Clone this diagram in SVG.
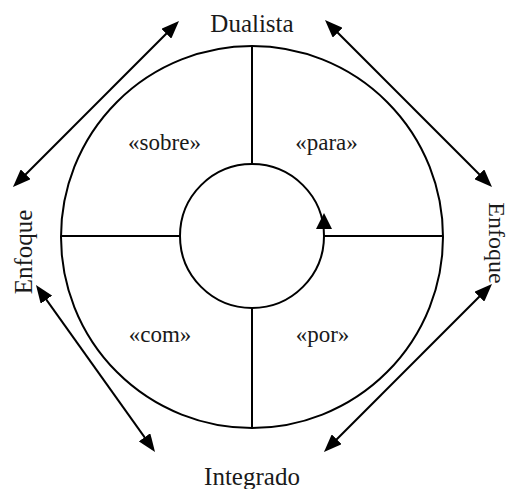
<svg xmlns="http://www.w3.org/2000/svg" width="511" height="489" viewBox="0 0 511 489">
<defs>
<style>
.ln{fill:none;stroke:#000;stroke-width:2}
.t{font-family:"Liberation Serif",serif;fill:#1a1a1a;text-anchor:middle}
.o{font-size:25px}
.r{font-size:24px}
.i{font-size:23px}
</style>
<marker id="ah" viewBox="0 0 18 14" markerWidth="18" markerHeight="14" refX="14" refY="7" orient="auto-start-reverse" markerUnits="userSpaceOnUse">
<path d="M0,0 L18,7 L0,14 z" fill="#000"/>
</marker>
</defs>
<rect width="511" height="489" fill="#fff"/>
<g id="wheel">
<circle class="ln" cx="252" cy="237" r="191"/>
<circle class="ln" cx="252" cy="236" r="72"/>
<line class="ln" x1="252" y1="46" x2="252" y2="164"/>
<line class="ln" x1="252" y1="308" x2="252" y2="428"/>
<line class="ln" x1="61" y1="236" x2="180" y2="236"/>
<line class="ln" x1="324" y1="236" x2="443" y2="236"/>
<path d="M324,213 L316,229 L332,229 z" fill="#000"/>
</g>
<g id="labels">
<text class="t i" x="164.5" y="150">«sobre»</text>
<text class="t i" x="326.5" y="150">«para»</text>
<text class="t i" x="160" y="342">«com»</text>
<text class="t i" x="322.5" y="342">«por»</text>
</g>
<g id="dualista"><text class="t o" x="252" y="32">Dualista</text></g>
<g id="integrado"><text class="t o" x="252" y="485">Integrado</text></g>
<g id="enfoque-left"><text class="t o" transform="translate(32,252) rotate(-90)">Enfoque</text></g>
<g id="enfoque-right"><text class="t r" transform="translate(489,243) rotate(90)">Enfoque</text></g>
<g id="connectors">
<line class="ln" x1="15.8" y1="184.2" x2="176.2" y2="23.8" marker-start="url(#ah)" marker-end="url(#ah)"/>
<line class="ln" x1="327.8" y1="22.8" x2="489.2" y2="184.2" marker-start="url(#ah)" marker-end="url(#ah)"/>
<line class="ln" x1="38.3" y1="288.3" x2="152.7" y2="448.7" marker-start="url(#ah)" marker-end="url(#ah)"/>
<line class="ln" x1="489.2" y1="286.8" x2="326.8" y2="449.2" marker-start="url(#ah)" marker-end="url(#ah)"/>
</g>
</svg>
